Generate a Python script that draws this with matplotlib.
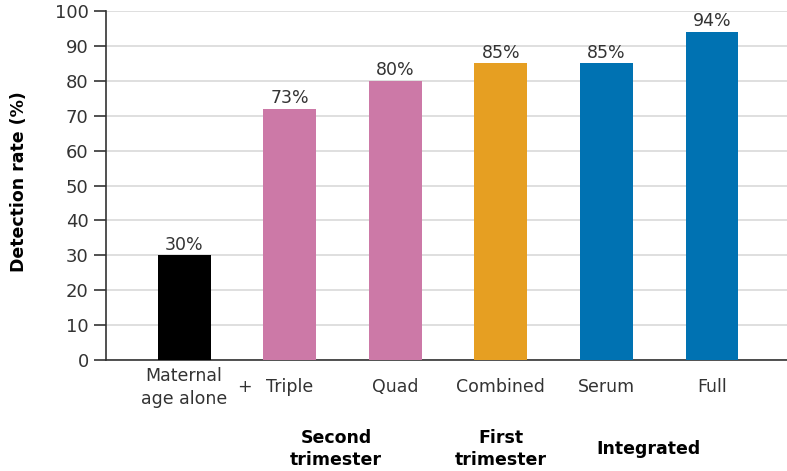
import numpy as np
import matplotlib
matplotlib.use("Agg")
import matplotlib.pyplot as plt
from matplotlib.transforms import blended_transform_factory

categories = ["Maternal\nage alone", "Triple", "Quad", "Combined", "Serum", "Full"]
values = [30, 72, 80, 85, 85, 94]
value_labels = ["30%", "73%", "80%", "85%", "85%", "94%"]
colors = ["#000000", "#CC79A7", "#CC79A7", "#E69F22", "#0072B2", "#0072B2"]
groups = ["Second\ntrimester", "First\ntrimester", "Integrated"]
group_pos = [1.44, 3.0, 4.4]

TEXT = "#333333"
plt.rcParams["font.family"] = "DejaVu Sans"

fig = plt.figure(figsize=(7.87, 4.71), dpi=100)
ax = fig.add_axes([0.1347, 0.2357, 0.8653, 0.7409])

x = np.arange(len(categories))
ax.bar(x, values, width=0.5, color=colors, zorder=3)
for xi, v, lab in zip(x, values, value_labels):
    ax.text(xi, v + 0.5, lab, ha="center", va="bottom", fontsize=12.5, color=TEXT, zorder=4)

ax.set_xlim(-0.74, 5.71)
ax.set_ylim(0, 100)
ax.set_yticks(range(0, 101, 10))
ax.yaxis.grid(True, color="#d9d9d9", linewidth=1.2, zorder=0)
ax.set_axisbelow(True)
ax.set_xticks([])
ax.tick_params(axis="y", length=9, width=1.2, color=TEXT, labelsize=13, labelcolor=TEXT, pad=3.5)

for s in ["top", "right"]:
    ax.spines[s].set_visible(False)
ax.spines["left"].set_color(TEXT)
ax.spines["bottom"].set_color(TEXT)
ax.spines["left"].set_linewidth(1.2)
ax.spines["bottom"].set_linewidth(1.2)

ax.set_ylabel("Detection rate (%)", fontsize=12.5, fontweight="bold", color="black")
ax.yaxis.set_label_coords(-0.115, 0.51)

trans = blended_transform_factory(ax.transData, ax.transAxes)
for xi, c in zip(x, categories):
    ax.text(xi, -0.078, c, ha="center", va="center", fontsize=12.5, color=TEXT,
            transform=trans, linespacing=1.35)
ax.text(0.57, -0.078, "+", ha="center", va="center", fontsize=12.5, color=TEXT, transform=trans)
for gx, g in zip(group_pos, groups):
    ax.text(gx, -0.255, g, ha="center", va="center", fontsize=12.5, fontweight="bold",
            color="black", transform=trans, linespacing=1.3)

fig.savefig("out.png", dpi=100)
